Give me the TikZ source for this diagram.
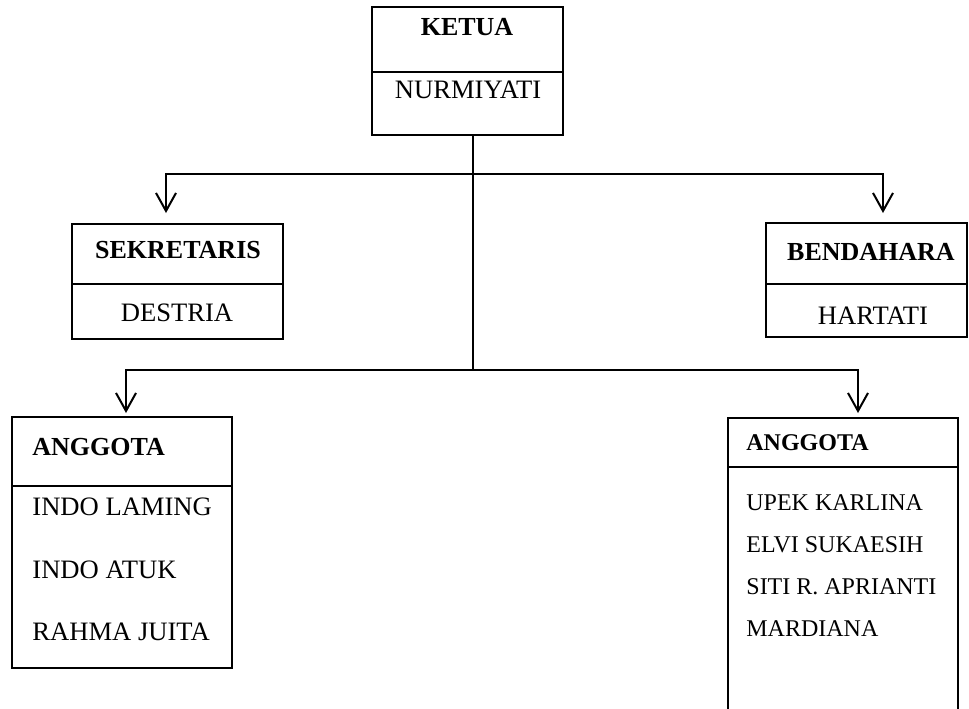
\documentclass[tikz,border=0pt]{standalone}
\usepackage{fontspec}
\setmainfont{Liberation Serif}
\usetikzlibrary{arrows.meta,fit}

\tikzset{
  box/.style={draw, line width=0.7pt, inner sep=0pt},
  bigbox/.style={box, line width=1.3pt},
  link/.style={line width=1pt},
  arr/.style={link, -{Straight Barb[length=9pt,width=10pt]}},
  head/.style={font=\fontsize{13}{15}\selectfont\bfseries, inner sep=0pt},
  txt/.style={font=\fontsize{13.3}{15}\selectfont, inner sep=0pt},
  smallhead/.style={font=\fontsize{12}{14}\selectfont\bfseries, inner sep=0pt, anchor=west},
  smalltxt/.style={font=\fontsize{12}{14}\selectfont, inner sep=0pt, anchor=west},
}

\begin{document}
\begin{tikzpicture}[x=0.5pt,y=-0.5pt]
  \useasboundingbox (0,0) rectangle (969,708);

  \node[bigbox, fit={(372,7) (563,72)}] (ketuaA) {};
  \node[bigbox, fit={(372,72) (563,135)}] (ketuaB) {};
  \node[head] (ketua) at (467,27) {KETUA};
  \node[txt] (nurmiyati) at (468,90) {NURMIYATI};

  \node[box, fit={(72,224) (283,284)}] (sekA) {};
  \node[box, fit={(72,284) (283,339)}] (sekB) {};
  \node[head] (sekretaris) at (178,250) {SEKRETARIS};
  \node[txt] (destria) at (177,313) {DESTRIA};

  \node[box, fit={(766,223) (967,284)}] (benA) {};
  \node[box, fit={(766,284) (967,337)}] (benB) {};
  \node[head] (bendahara) at (871,252) {BENDAHARA};
  \node[txt] (hartati) at (873,316) {HARTATI};

  \node[box, fit={(12,417) (232,486)}] (angA) {};
  \node[box, fit={(12,486) (232,668)}] (angB) {};
  \node[head, anchor=west] (anggotaA) at (32,447) {ANGGOTA};
  \node[txt, anchor=west] (laming) at (32,507) {INDO LAMING};
  \node[txt, anchor=west] (atuk) at (32,570) {INDO ATUK};
  \node[txt, anchor=west] (rahma) at (32,632) {RAHMA JUITA};

  \node[box, fit={(728,418) (958,467)}] (angC) {};
  \node[box, fit={(728,467) (958,716)}] (angD) {};
  \node[smallhead] (anggotaB) at (746,443) {ANGGOTA};
  \node[smalltxt] (upek) at (746,503) {UPEK KARLINA};
  \node[smalltxt] (elvi) at (746,545) {ELVI SUKAESIH};
  \node[smalltxt] (siti) at (746,587) {SITI R. APRIANTI};
  \node[smalltxt] (mardiana) at (746,629) {MARDIANA};

  \coordinate (topbar) at (473,174);
  \coordinate (lowbar) at (473,370);
  \coordinate (sekin) at (166,213);
  \coordinate (benin) at (883,213);
  \coordinate (angin) at (126,413);
  \coordinate (angin2) at (858,413);

  \draw[link] (lowbar |- ketuaB.south) -- (lowbar);
  \draw[arr] (topbar) -| (sekin);
  \draw[arr] (topbar) -| (benin);
  \draw[arr] (lowbar) -| (angin);
  \draw[arr] (lowbar) -| (angin2);
\end{tikzpicture}
\end{document}
